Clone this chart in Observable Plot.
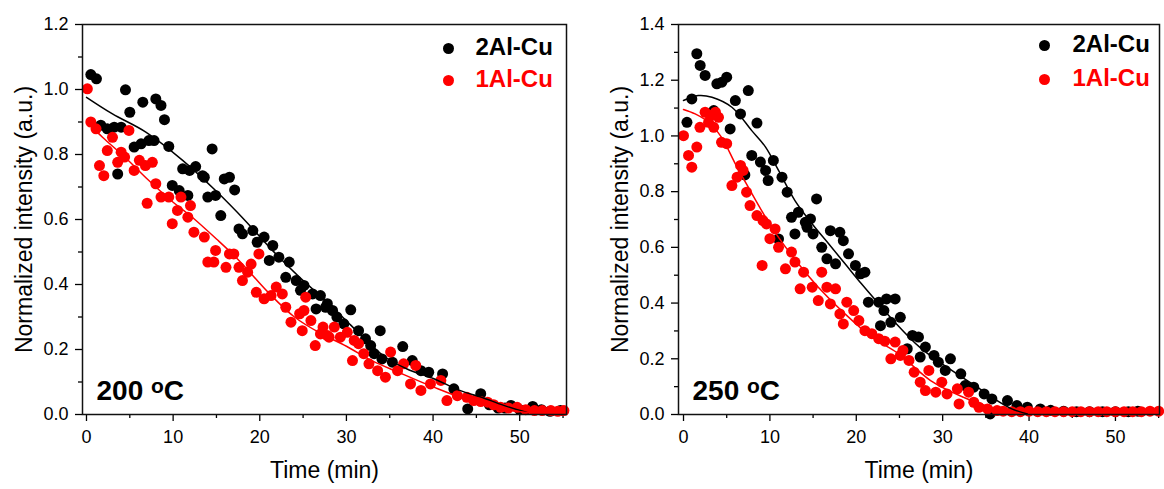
<!DOCTYPE html>
<html><head><meta charset="utf-8">
<script src="https://cdn.jsdelivr.net/npm/d3@7"></script>
<script src="https://cdn.jsdelivr.net/npm/@observablehq/plot@0.6"></script>
<style>
html,body{margin:0;padding:0;background:#fff;}
#wrap{display:flex;width:1164px;height:489px;}
</style></head><body><div id="wrap"></div>
<script>
// ---- Data (time in min, normalized intensity in a.u.) ----
const seriesNames = ["2Al-Cu", "1Al-Cu"];
const seriesColors = ["#000000", "#ff0000"];
const xTicks = [0, 10, 20, 30, 40, 50];
const xMinorTicks = [5, 15, 25, 35, 45, 55];
const yTicks200 = [0, 0.2, 0.4, 0.6, 0.8, 1.0, 1.2];
const yMinor200 = [0.1, 0.3, 0.5, 0.7, 0.9, 1.1];
const yTicks250 = [0, 0.2, 0.4, 0.6, 0.8, 1.0, 1.2, 1.4];
const yMinor250 = [0.1, 0.3, 0.5, 0.7, 0.9, 1.1, 1.3];

// 200 °C, 2Al-Cu (black)
const pts200_2Al = [
[0.5,1.046],[1.15,1.033],[1.65,0.89],[2.4,0.879],[3.2,0.884],[3.6,0.74],[4.0,0.884],[4.5,0.999],
[5.0,0.93],[5.5,0.823],[6.3,0.833],[6.5,0.961],[7.2,0.843],[7.8,0.843],[8.0,0.971],[8.6,0.951],
[9.0,0.907],[9.5,0.825],[9.9,0.705],[10.7,0.689],[11.1,0.756],[11.7,0.674],[11.9,0.751],[12.6,0.763],
[13.4,0.735],[13.6,0.73],[14.0,0.669],[14.5,0.817],[14.9,0.674],[15.5,0.612],[15.9,0.725],[16.5,0.73],
[17.1,0.691],[17.6,0.571],[18.0,0.556],[19.2,0.566],[19.7,0.53],[20.5,0.546],[21.1,0.474],[21.5,0.52],
[22.2,0.484],[23.0,0.422],[23.4,0.469],[24.2,0.412],[24.7,0.382],[25.1,0.397],[26.1,0.371],[26.5,0.325],
[27.0,0.366],[27.6,0.33],[27.8,0.341],[28.4,0.32],[28.9,0.30],[29.7,0.279],[30.5,0.322],[31.4,0.258],
[32.2,0.233],[32.8,0.212],[33.2,0.187],[33.9,0.258],[34.1,0.171],[35.3,0.161],[36.5,0.209],[37.6,0.166],
[38.6,0.135],[39.5,0.13],[41.1,0.125],[42.4,0.079],[44.0,0.017],[45.5,0.064],[46.5,0.03],[47.5,0.02],
[48.3,0.02],[49.0,0.028],[50.0,0.015],[51.5,0.025],[52.5,0.015],[53.5,0.01],[54.7,0.012]
];
// 200 °C, 1Al-Cu (red)
const pts200_1Al = [
[0.1,1.002],[0.5,0.90],[1.1,0.879],[1.5,0.766],[2.0,0.735],[2.4,0.812],[3.0,0.853],[3.6,0.776],
[4.0,0.807],[4.4,0.792],[4.9,0.874],[5.5,0.751],[6.1,0.782],[6.8,0.766],[7.0,0.65],[7.6,0.776],
[8.0,0.71],[8.6,0.669],[9.5,0.669],[9.9,0.587],[10.5,0.628],[10.9,0.669],[11.7,0.607],[12.0,0.643],
[12.4,0.561],[13.6,0.546],[14.0,0.469],[14.7,0.469],[14.9,0.505],[16.1,0.453],[16.5,0.494],[17.0,0.494],
[17.6,0.453],[18.0,0.412],[18.6,0.438],[19.0,0.463],[19.6,0.376],[19.9,0.494],[20.5,0.356],[21.3,0.366],
[21.9,0.392],[22.6,0.371],[23.0,0.33],[23.6,0.284],[24.6,0.31],[24.9,0.258],[25.1,0.32],[25.3,0.361],
[25.9,0.289],[26.4,0.212],[27.0,0.248],[27.3,0.269],[27.8,0.243],[28.0,0.238],[28.6,0.269],[29.3,0.238],
[30.1,0.253],[30.7,0.166],[30.9,0.228],[31.4,0.218],[32.0,0.187],[32.6,0.156],[33.6,0.135],[34.5,0.115],
[35.1,0.192],[35.9,0.135],[36.6,0.156],[37.4,0.094],[38.0,0.151],[38.6,0.074],[39.7,0.094],[40.9,0.105],
[41.6,0.043],[42.8,0.058],[43.9,0.053],[44.7,0.043],[45.5,0.04],[46.3,0.038],[47.0,0.03],[47.8,0.022],
[48.7,0.02],[49.7,0.022],[50.7,0.015],[51.7,0.012],[52.6,0.012],[53.6,0.012],[54.4,0.01],[55.1,0.012]
];
const fit200_2Al = [
[0,0.976],[3,0.925],[6.85,0.869],[11.1,0.782],[14.9,0.689],[18.3,0.597],[21.1,0.515],[24.6,0.422],
[28,0.341],[30.5,0.275],[34.3,0.18],[37,0.14],[40.1,0.11],[43,0.075],[45.9,0.05],[48.5,0.025],[51,0.005]
];
const fit200_1Al = [
[0.3,0.895],[1.85,0.853],[4.5,0.79],[7.2,0.72],[9.7,0.66],[12.2,0.607],[15,0.54],[17.6,0.474],
[21,0.375],[24,0.30],[27,0.25],[30,0.21],[33,0.165],[36,0.13],[40,0.085],[44,0.045],[48,0.018],[52,0.002]
];

// 250 °C, 2Al-Cu (black)
const pts250_2Al = [
[0.4,1.049],[0.96,1.133],[1.54,1.295],[1.93,1.253],[2.5,1.217],[3.5,1.091],[3.86,1.187],[4.44,1.193],
[5.0,1.211],[5.4,1.025],[6.0,1.127],[6.6,1.079],[7.1,0.86],[7.5,1.163],[7.9,0.93],[8.5,1.046],
[8.9,0.906],[9.5,0.876],[9.8,0.84],[10.4,0.912],[11.0,0.63],[11.4,0.852],[12.0,0.798],[12.5,0.708],
[12.9,0.648],[13.3,0.726],[14.1,0.69],[14.3,0.672],[14.7,0.702],[15.0,0.648],[15.4,0.774],[16.0,0.60],
[16.6,0.559],[17.0,0.66],[17.6,0.541],[18.1,0.654],[18.5,0.624],[19.1,0.577],[19.9,0.535],[20.5,0.505],
[21.0,0.511],[21.4,0.403],[22.6,0.403],[22.8,0.319],[23.2,0.373],[23.5,0.415],[24.0,0.331],[24.5,0.415],
[25.1,0.349],[25.9,0.236],[26.5,0.284],[27.2,0.278],[27.4,0.206],[28.0,0.242],[29.0,0.212],[29.5,0.188],
[30.3,0.158],[30.9,0.20],[32.1,0.146],[32.6,0.104],[33.6,0.098],[34.8,0.074],[35.5,0.002],[35.7,0.056],
[37.5,0.05],[38.6,0.032],[39.8,0.026],[41.3,0.02],[42.5,0.015],[44.0,0.012],[45.5,0.01],[47.0,0.01],
[48.5,0.01],[50.0,0.01],[51.5,0.01],[52.6,0.012]
];
// 250 °C, 1Al-Cu (red)
const pts250_1Al = [
[0,1.001],[0.58,0.93],[0.96,0.888],[1.54,0.96],[1.9,1.031],[2.5,1.085],[2.9,1.049],[3.1,1.073],
[3.5,1.031],[3.7,1.085],[4.05,1.067],[4.4,0.977],[5.0,0.972],[5.6,0.822],[6.2,0.852],[6.6,0.894],
[6.9,0.876],[7.3,0.798],[7.7,0.75],[8.5,0.714],[9.1,0.535],[9.2,0.696],[9.6,0.684],[10.0,0.631],
[10.6,0.666],[11.0,0.60],[11.8,0.523],[12.5,0.583],[12.9,0.547],[13.5,0.451],[13.9,0.511],[14.9,0.457],
[15.6,0.409],[16.0,0.511],[16.6,0.457],[17.0,0.397],[17.6,0.451],[18.1,0.361],[18.5,0.325],[18.9,0.403],
[19.7,0.373],[20.3,0.337],[21.0,0.301],[21.8,0.29],[22.6,0.272],[23.3,0.263],[24.0,0.20],[24.5,0.26],
[25.1,0.212],[25.4,0.23],[26.1,0.194],[26.7,0.152],[27.4,0.116],[28.0,0.086],[28.4,0.158],[29.2,0.08],
[29.9,0.116],[30.5,0.074],[31.7,0.092],[31.9,0.038],[33.0,0.08],[33.6,0.044],[34.2,0.026],[35.2,0.02],
[36.3,0.014],[37,0.012],[38,0.01],[39,0.01],[40,0.012],[41,0.01],[42,0.01],[43,0.01],[44,0.01],[45,0.01],
[46,0.01],[47,0.01],[48,0.01],[49,0.01],[50,0.01],[51,0.01],[52,0.01],[53,0.01],[54,0.012],[55,0.012]
];
const fit250_2Al = [
[0,1.127],[1.7,1.145],[3.3,1.139],[5.6,1.103],[7.9,1.019],[9.5,0.96],[11,0.876],[12.9,0.768],
[14.9,0.684],[16.8,0.613],[18.7,0.541],[20.6,0.469],[22.6,0.397],[24.3,0.337],[27.4,0.24],[30.5,0.17],
[34,0.098],[36.3,0.05],[38,0.02],[39.8,0.002]
];
const fit250_1Al = [
[0,1.095],[1.35,1.079],[2.9,1.049],[4.4,0.995],[6,0.9],[7.5,0.816],[9.5,0.708],[11,0.636],[13.3,0.541],
[15.6,0.457],[18.7,0.361],[21.8,0.278],[24.9,0.218],[28.6,0.122],[32.4,0.062],[35.5,0.026],[38,0.003]
];

const FONT = "'Liberation Sans', Arial, sans-serif";

function panel({width, marginLeft, marginRight, yDomain, xDomain, yTicks, yMinor, pts, fits, tempLabel, legendDx}) {
  const marks = [
    Plot.axisX({ticks: xTicks, tickSize: 7, tickPadding: 9, tickFormat: d => String(d), label: null, fontSize: 18, strokeWidth: 1.3}),
    Plot.axisX({ticks: xMinorTicks, tickSize: 4, tickFormat: () => "", label: null, strokeWidth: 1.3}),
    Plot.axisY({ticks: yTicks, tickSize: 7, tickPadding: 7, tickFormat: d3.format(".1f"), label: null, fontSize: 18, strokeWidth: 1.3}),
    Plot.axisY({ticks: yMinor, tickSize: 4, tickFormat: () => "", label: null, strokeWidth: 1.3}),
  ];
  pts.forEach((p, i) => marks.push(Plot.dot(p, {x: d => d[0], y: d => d[1], r: 5.5, fill: seriesColors[i], stroke: "none"})));
  fits.forEach((f, i) => marks.push(Plot.line(f, {x: d => d[0], y: d => d[1], stroke: seriesColors[i], strokeWidth: 1.5, curve: "catmull-rom"})));
  marks.push(Plot.frame({stroke: "#111", strokeWidth: 1.5}));
  // legend
  seriesNames.forEach((name, i) => {
    marks.push(Plot.dot([name], {frameAnchor: "top-right", dx: legendDx[0], dy: legendDx[2][i], r: 5.5, fill: seriesColors[i]}));
    marks.push(Plot.text([name], {frameAnchor: "top-right", dx: legendDx[1], dy: legendDx[2][i] - 1, textAnchor: "start", lineAnchor: "middle", fontSize: 24, fontWeight: "bold", fill: seriesColors[i]}));
  });
  marks.push(Plot.text([tempLabel], {frameAnchor: "bottom-left", dx: 14, dy: -23, textAnchor: "start", lineAnchor: "middle", fontSize: 28, fontWeight: "bold", fill: "#000"}));
  marks.push(Plot.text(["Time (min)"], {frameAnchor: "bottom", dy: 56, textAnchor: "middle", lineAnchor: "middle", fontSize: 23, fill: "#000"}));
  marks.push(Plot.text(["Normalized intensity (a.u.)"], {frameAnchor: "left", dx: -58, rotate: -90, textAnchor: "middle", lineAnchor: "middle", fontSize: 23, fill: "#000"}));

  const svg = Plot.plot({
    width, height: 489,
    marginLeft, marginRight, marginTop: 24, marginBottom: 75,
    x: {domain: xDomain},
    y: {domain: yDomain},
    style: {fontFamily: FONT, fontSize: "18px", background: "#fff", color: "#000", overflow: "visible"},
    marks
  });
  // superscript "o" in temperature label
  svg.querySelectorAll("text").forEach(t => {
    if (t.textContent === tempLabel) {
      const parts = tempLabel.split(" ");
      t.textContent = "";
      const ns = "http://www.w3.org/2000/svg";
      const a = document.createElementNS(ns, "tspan"); a.textContent = parts[0] + " ";
      const o = document.createElementNS(ns, "tspan"); o.textContent = "o"; o.setAttribute("dy", "-7"); o.setAttribute("font-size", "21");
      const c = document.createElementNS(ns, "tspan"); c.textContent = "C"; c.setAttribute("dy", "7");
      t.append(a, o, c);
    }
  });
  return svg;
}

const wrap = document.getElementById("wrap");
wrap.append(panel({
  width: 590, marginLeft: 82, marginRight: 24,
  xDomain: [-0.46, 55.4], yDomain: [0, 1.2], yTicks: yTicks200, yMinor: yMinor200,
  pts: [pts200_2Al, pts200_1Al], fits: [fit200_2Al, fit200_1Al],
  tempLabel: "200 oC", legendDx: [-118, -91, [24, 56]]
}));
wrap.append(panel({
  width: 574, marginLeft: 88, marginRight: 5,
  xDomain: [-0.58, 55.1], yDomain: [0, 1.4], yTicks: yTicks250, yMinor: yMinor250,
  pts: [pts250_2Al, pts250_1Al], fits: [fit250_2Al, fit250_1Al],
  tempLabel: "250 oC", legendDx: [-115, -87, [21, 55]]
}));
</script></body></html>
